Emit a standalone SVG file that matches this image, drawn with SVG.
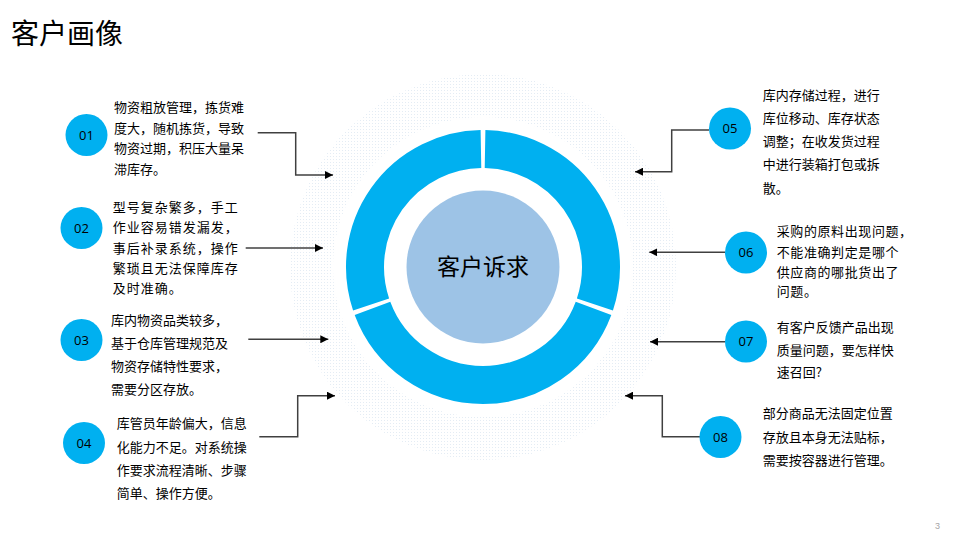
<svg xmlns="http://www.w3.org/2000/svg" width="960" height="540" viewBox="0 0 960 540">
  <defs>
    <pattern id="dots" width="3" height="3" patternUnits="userSpaceOnUse">
      <rect x="0" y="0" width="1" height="1" fill="#e4ecf4"/>
    </pattern>
    <marker id="arr" markerWidth="9" markerHeight="8" refX="8" refY="4" orient="auto" markerUnits="userSpaceOnUse">
      <path d="M0,0 L8,4 L0,8 z" fill="#000"/>
    </marker>
  </defs>
  <style>
    .t { font-family: "Noto Sans CJK SC", "Noto Sans", sans-serif; font-size: 13px; fill: #000; }
    .num { font-family: "Open Sans", "Liberation Sans", sans-serif; font-size: 13px; fill: #000; text-anchor: middle; }
    .dot { fill: #00B0F0; }
    .seg { fill: none; stroke: #00B0F0; stroke-width: 38; }
    .conn { fill: none; stroke: #404040; stroke-width: 1.5; marker-end: url(#arr); }
  </style>
  <rect width="960" height="540" fill="#fff"/>

  <text id="title" x="11" y="44" font-family="Noto Sans CJK SC, sans-serif" font-size="28" fill="#000">客户画像</text>

  <g id="hub">
    <path d="M483,74 a193,193 0 1,0 0.01,0 z M483,117 a150,150 0 1,1 -0.01,0 z" fill="url(#dots)" fill-rule="evenodd"/>
    <path class="seg" d="M485.06,149.02 A118,118 0 0,1 594.90,304.44"/>
    <path class="seg" d="M593.53,308.32 A118,118 0 0,1 372.47,308.32"/>
    <path class="seg" d="M371.10,304.44 A118,118 0 0,1 480.94,149.02"/>
    <circle cx="483" cy="267" r="76.5" fill="#9DC3E6"/>
    <text x="483" y="275" text-anchor="middle" font-family="Noto Sans CJK SC, sans-serif" font-size="23" fill="#000">客户诉求</text>
  </g>

  <g id="connectors">
    <path class="conn" d="M257.7,132.7 H295.7 V175 H333"/>
    <path class="conn" d="M245.7,248 H323"/>
    <path class="conn" d="M248.3,339.3 H328.3"/>
    <path class="conn" d="M259.3,436.7 H297.7 V395.7 H335"/>
    <path class="conn" d="M709,130 H671.7 V171.7 H635"/>
    <path class="conn" d="M725,252.3 H649.3"/>
    <path class="conn" d="M725,341.7 H650"/>
    <path class="conn" d="M700,436.7 H662.3 V395.7 H625"/>
  </g>

  <g id="n01">
    <circle class="dot" cx="86.5" cy="135" r="21"/>
    <text class="num" x="86.5" y="139.5">01</text>
    <text class="t" x="114">
      <tspan x="114" y="111.5">物资粗放管理，拣货难</tspan>
      <tspan x="114" y="132.5">度大，随机拣货，导致</tspan>
      <tspan x="114" y="153">物资过期，积压大量呆</tspan>
      <tspan x="114" y="174">滞库存。</tspan>
    </text>
  </g>

  <g id="n02">
    <circle class="dot" cx="81.5" cy="228" r="21"/>
    <text class="num" x="81.5" y="232.5">02</text>
    <text class="t" letter-spacing="1">
      <tspan x="112.7" y="211.5">型号复杂繁多，手工</tspan>
      <tspan x="112.7" y="231.5">作业容易错发漏发，</tspan>
      <tspan x="112.7" y="252.5">事后补录系统，操作</tspan>
      <tspan x="112.7" y="273">繁琐且无法保障库存</tspan>
      <tspan x="112.7" y="293">及时准确。</tspan>
    </text>
  </g>

  <g id="n03">
    <circle class="dot" cx="81.5" cy="340" r="21"/>
    <text class="num" x="81.5" y="344.5">03</text>
    <text class="t">
      <tspan x="111" y="325">库内物资品类较多，</tspan>
      <tspan x="111" y="348">基于仓库管理规范及</tspan>
      <tspan x="111" y="371">物资存储特性要求，</tspan>
      <tspan x="111" y="394">需要分区存放。</tspan>
    </text>
  </g>

  <g id="n04">
    <circle class="dot" cx="84" cy="443" r="21"/>
    <text class="num" x="84" y="447.5">04</text>
    <text class="t">
      <tspan x="116.7" y="428">库管员年龄偏大，信息</tspan>
      <tspan x="116.7" y="451.5">化能力不足。对系统操</tspan>
      <tspan x="116.7" y="475">作要求流程清晰、步骤</tspan>
      <tspan x="116.7" y="497.5">简单、操作方便。</tspan>
    </text>
  </g>

  <g id="n05">
    <circle class="dot" cx="730" cy="128.5" r="21"/>
    <text class="num" x="730" y="133">05</text>
    <text class="t">
      <tspan x="762.7" y="100">库内存储过程，进行</tspan>
      <tspan x="762.7" y="123">库位移动、库存状态</tspan>
      <tspan x="762.7" y="146">调整；在收发货过程</tspan>
      <tspan x="762.7" y="169">中进行装箱打包或拆</tspan>
      <tspan x="762.7" y="192.5">散。</tspan>
    </text>
  </g>

  <g id="n06">
    <circle class="dot" cx="746" cy="252.5" r="21"/>
    <text class="num" x="746" y="257">06</text>
    <text class="t" letter-spacing="0.6">
      <tspan x="776.7" y="235.5">采购的原料出现问题，</tspan>
      <tspan x="776.7" y="256.5">不能准确判定是哪个</tspan>
      <tspan x="776.7" y="277">供应商的哪批货出了</tspan>
      <tspan x="776.7" y="296">问题。</tspan>
    </text>
  </g>

  <g id="n07">
    <circle class="dot" cx="746" cy="341.5" r="21"/>
    <text class="num" x="746" y="346">07</text>
    <text class="t">
      <tspan x="776.7" y="331.5">有客户反馈产品出现</tspan>
      <tspan x="776.7" y="355">质量问题，要怎样快</tspan>
      <tspan x="776.7" y="377">速召回?</tspan>
    </text>
  </g>

  <g id="n08">
    <circle class="dot" cx="720.5" cy="437" r="21"/>
    <text class="num" x="720.5" y="441.5">08</text>
    <text class="t">
      <tspan x="762.7" y="418">部分商品无法固定位置</tspan>
      <tspan x="762.7" y="441.5">存放且本身无法贴标，</tspan>
      <tspan x="762.7" y="465">需要按容器进行管理。</tspan>
    </text>
  </g>

  <text id="page" x="940" y="529" text-anchor="end" font-family="Liberation Sans, sans-serif" font-size="9" fill="#a6a6a6">3</text>
</svg>
